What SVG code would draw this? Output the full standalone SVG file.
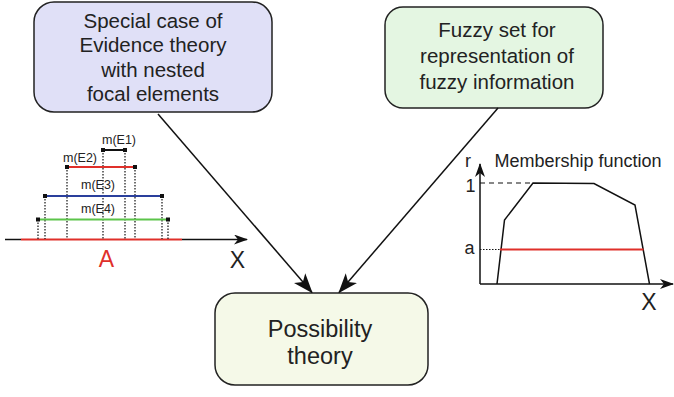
<svg xmlns="http://www.w3.org/2000/svg" width="674" height="397" viewBox="0 0 674 397">
<defs>
<style>
.box{stroke:#222;stroke-width:1.5}
.t{font-family:"Liberation Sans",Arial,sans-serif;fill:#222;text-anchor:middle}
.bt{font-size:20.5px}
.sm{font-size:12.5px}
.ln{stroke:#111;stroke-width:1.5;fill:none}
.dot{stroke:#111;stroke-width:1.2;stroke-dasharray:1.5 1.5;fill:none}
.ep{fill:#111}
</style>
<marker id="ah" viewBox="0 0 20 15" refX="19" refY="7.5" markerWidth="20" markerHeight="15" markerUnits="userSpaceOnUse" orient="auto">
<path d="M0,0 L20,7.5 L0,15 L5,7.5 Z" fill="#111"/>
</marker>
<marker id="ax" viewBox="0 0 14 10" refX="13" refY="5" markerWidth="14" markerHeight="10" markerUnits="userSpaceOnUse" orient="auto">
<path d="M0,0 L14,5 L0,10 L4,5 Z" fill="#111"/>
</marker>
</defs>
<rect width="674" height="397" fill="#fff"/>

<g id="evidence">
<rect class="box" x="34" y="2" width="238" height="110" rx="20" fill="#e0e0f7"/>
<text class="t bt" x="153" y="27.5">Special case of</text>
<text class="t bt" x="153" y="52">Evidence theory</text>
<text class="t bt" x="153" y="76.5">with nested</text>
<text class="t bt" x="153" y="101">focal elements</text>
</g>

<g id="fuzzy">
<rect class="box" x="385" y="7" width="218" height="101" rx="18" fill="#e4f6e2"/>
<text class="t bt" x="497" y="36.5">Fuzzy set for</text>
<text class="t bt" x="497" y="62.5">representation of</text>
<text class="t bt" x="497" y="88.5">fuzzy information</text>
</g>

<g id="possibility">
<rect class="box" x="215" y="293" width="213" height="92" rx="20" fill="#f5f9e8"/>
<text class="t" x="320" y="336.5" style="font-size:23.5px">Possibility</text>
<text class="t" x="320" y="363.5" style="font-size:23.5px">theory</text>
</g>

<g id="connectors">
<line class="ln" x1="158" y1="114" x2="312" y2="292.5" marker-end="url(#ah)"/>
<line class="ln" x1="498" y1="108" x2="339" y2="292.5" marker-end="url(#ah)"/>
</g>

<g id="nested-sets">
<line class="ln" x1="5" y1="239.5" x2="21" y2="239.5"/>
<line x1="21" y1="239.5" x2="182" y2="239.5" stroke="#e0302a" stroke-width="2"/>
<line class="ln" x1="182" y1="239.5" x2="247" y2="239.5" marker-end="url(#ax)"/>
<text class="t" x="106.5" y="267" style="font-size:23px;fill:#e0302a">A</text>
<text class="t" x="237.5" y="268" style="font-size:23px">X</text>

<line class="dot" x1="103" y1="150" x2="103" y2="239"/>
<line class="dot" x1="125" y1="150" x2="125" y2="239"/>
<line class="dot" x1="67" y1="167" x2="67" y2="239"/>
<line class="dot" x1="135" y1="167" x2="135" y2="239"/>
<line class="dot" x1="45" y1="196" x2="45" y2="239"/>
<line class="dot" x1="162" y1="196" x2="162" y2="239"/>
<line class="dot" x1="38" y1="219.5" x2="38" y2="239"/>
<line class="dot" x1="168" y1="219.5" x2="168" y2="239"/>

<line x1="103" y1="150" x2="125" y2="150" stroke="#111" stroke-width="2"/>
<line x1="67" y1="167" x2="135" y2="167" stroke="#e0302a" stroke-width="2"/>
<line x1="45" y1="196" x2="162" y2="196" stroke="#2a3f9c" stroke-width="2"/>
<line x1="38" y1="219.5" x2="168" y2="219.5" stroke="#5cc44a" stroke-width="2"/>

<rect class="ep" x="101" y="148" width="4" height="4"/>
<rect class="ep" x="123" y="148" width="4" height="4"/>
<rect class="ep" x="65" y="165" width="4" height="4"/>
<rect class="ep" x="133" y="165" width="4" height="4"/>
<rect class="ep" x="43" y="194" width="4" height="4"/>
<rect class="ep" x="160" y="194" width="4" height="4"/>
<rect class="ep" x="36" y="217.5" width="4" height="4"/>
<rect class="ep" x="166" y="217.5" width="4" height="4"/>

<text class="t sm" x="119" y="143.5">m(E1)</text>
<text class="t sm" x="80" y="162">m(E2)</text>
<text class="t sm" x="98" y="188.5">m(E3)</text>
<text class="t sm" x="98" y="213">m(E4)</text>
</g>

<g id="membership">
<line class="ln" x1="480" y1="284" x2="480" y2="164" marker-end="url(#ax)"/>
<line class="ln" x1="480" y1="284" x2="673" y2="284" marker-end="url(#ax)"/>
<line x1="480" y1="183" x2="533" y2="183" stroke="#111" stroke-width="1.2" stroke-dasharray="5 4"/>
<line x1="480" y1="249.5" x2="500" y2="249.5" stroke="#111" stroke-width="1.2" stroke-dasharray="1.5 1.5"/>
<polyline class="ln" points="497,284 504.5,220 533,183 594,183.5 635,205 649.5,284"/>
<line x1="500" y1="249.5" x2="643.5" y2="249.5" stroke="#e0302a" stroke-width="2"/>
<text class="t" x="468" y="167" style="font-size:18px">r</text>
<text class="t" x="578" y="167" style="font-size:18px">Membership function</text>
<text class="t" x="470.5" y="192" style="font-size:18px">1</text>
<text class="t" x="469.5" y="254" style="font-size:18px">a</text>
<text class="t" x="649" y="310" style="font-size:23px">X</text>
</g>
</svg>
